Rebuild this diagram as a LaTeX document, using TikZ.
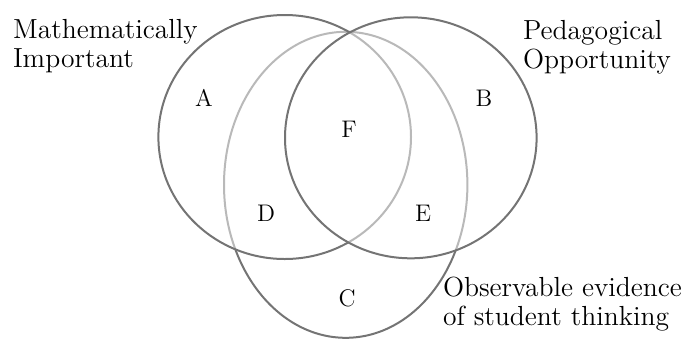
\documentclass[tikz,border=0pt]{standalone}
\usetikzlibrary{positioning}
\definecolor{cline}{HTML}{747474}
\tikzset{
  every picture/.style={line width=1pt},
  venn/.style={draw=cline, fill=white, fill opacity=0.5},
  region/.style={font=\fontsize{12}{14}\selectfont, inner sep=0pt},
  setname/.style={font=\fontsize{13.8}{14.5}\selectfont, align=left, anchor=base west, inner sep=0pt},
}
\begin{document}
\begin{tikzpicture}[x=0.5pt, y=-0.5pt]
  \useasboundingbox (0,0) rectangle (686,339);

  % the three sets
  \draw[draw=cline] (345.7,184.8) ellipse [x radius=121.7, y radius=153];
  \path[venn] (284.7,137) ellipse [x radius=126.3, y radius=122];
  \path[venn] (410.8,137.8) ellipse [x radius=125.8, y radius=120.5];

  % regions
  \node[region] (ra) at (204,98)  {A};
  \node[region] (rb) at (484,98)  {B};
  \node[region] (rf) at (349,129) {F};
  \node[region] (rd) at (266,213) {D};
  \node[region] (re) at (423,213) {E};
  \node[region] (rc) at (347,298) {C};

  % set names (anchor is the baseline of the last line)
  \node[setname] (math) at (12,67)  {Mathematically\\Important};
  \node[setname] (peda) at (522,68) {Pedagogical\\Opportunity};
  \node[setname] (obs)  at (442,325) {Observable evidence\\of student thinking};
\end{tikzpicture}
\end{document}
